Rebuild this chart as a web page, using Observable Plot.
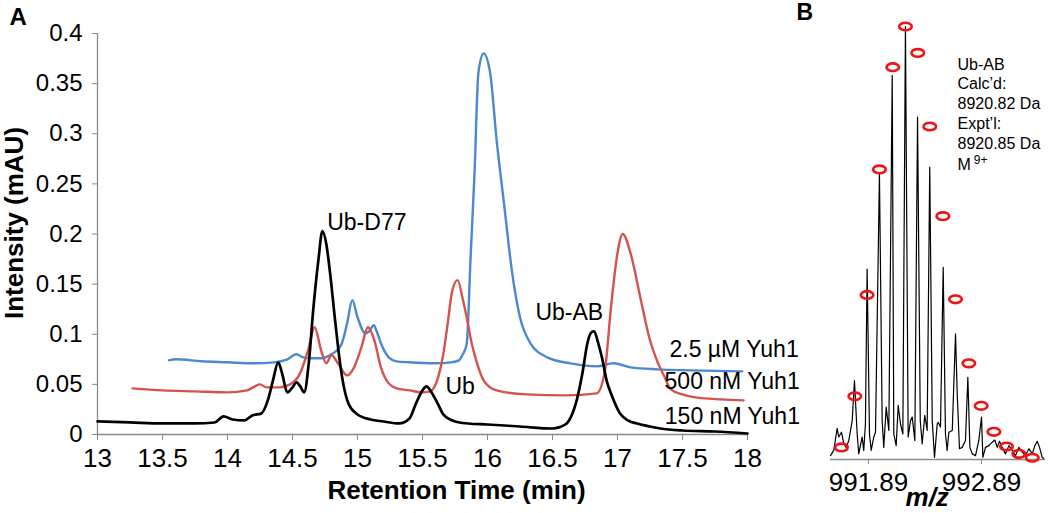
<!DOCTYPE html>
<html><head><meta charset="utf-8">
<script src="https://cdn.jsdelivr.net/npm/d3@7"></script>
<script src="https://cdn.jsdelivr.net/npm/@observablehq/plot@0.6"></script>
<style>
html,body{margin:0;padding:0;background:#fff;}
#wrap{position:relative;width:1050px;height:513px;overflow:hidden;background:#fff;}
#wrap svg{position:absolute;top:0;}
</style></head><body><div id="wrap"></div>
<script>
// ---------- Panel A: chromatograms ----------
const xTicks = [13, 13.5, 14, 14.5, 15, 15.5, 16, 16.5, 17, 17.5, 18];
const yTicks = [0, 0.05, 0.1, 0.15, 0.2, 0.25, 0.3, 0.35, 0.4];

const tBlack = [13.00,13.25,13.50,13.75,13.90,13.97,14.04,14.13,14.19,14.26,14.31,14.35,14.39,14.42,14.46,14.50,14.53,14.56,14.59,14.625,14.66,14.70,14.73,14.76,14.79,14.83,14.87,14.93,15.00,15.10,15.20,15.32,15.40,15.45,15.50,15.53,15.57,15.62,15.66,15.75,15.85,16.00,16.25,16.50,16.60,16.64,16.69,16.73,16.77,16.80,16.82,16.85,16.88,16.92,16.95,17.02,17.08,17.15,17.25,17.33,17.50,17.75,18.00];
const iBlack = [0.013,0.012,0.011,0.011,0.012,0.018,0.015,0.014,0.019,0.021,0.034,0.054,0.072,0.061,0.042,0.047,0.052,0.048,0.042,0.071,0.125,0.175,0.203,0.190,0.160,0.111,0.067,0.031,0.020,0.015,0.013,0.011,0.016,0.031,0.044,0.048,0.042,0.030,0.020,0.013,0.011,0.010,0.008,0.006,0.010,0.017,0.036,0.061,0.092,0.102,0.103,0.092,0.077,0.052,0.041,0.021,0.014,0.011,0.008,0.006,0.004,0.003,0.001];

const tRed = [13.27,13.50,13.75,14.00,14.15,14.21,14.25,14.30,14.40,14.48,14.55,14.62,14.67,14.72,14.76,14.80,14.85,14.92,14.97,15.03,15.08,15.13,15.18,15.24,15.30,15.40,15.50,15.56,15.62,15.66,15.69,15.73,15.77,15.81,15.84,15.88,15.92,15.97,16.07,16.30,16.60,16.84,16.90,16.95,17.00,17.04,17.10,17.18,17.25,17.30,17.36,17.41,17.50,17.60,17.80,17.97];
const iRed = [0.046,0.044,0.043,0.042,0.044,0.048,0.050,0.047,0.047,0.050,0.059,0.084,0.107,0.084,0.071,0.079,0.071,0.059,0.066,0.087,0.107,0.094,0.067,0.051,0.046,0.044,0.042,0.043,0.057,0.080,0.107,0.144,0.154,0.135,0.117,0.090,0.071,0.054,0.044,0.040,0.039,0.041,0.061,0.127,0.181,0.200,0.181,0.134,0.094,0.075,0.058,0.045,0.040,0.037,0.035,0.034];

const tBlue = [13.55,13.60,13.80,14.00,14.20,14.36,14.46,14.53,14.58,14.65,14.72,14.80,14.85,14.88,14.92,14.96,15.00,15.06,15.09,15.125,15.15,15.18,15.24,15.30,15.40,15.60,15.72,15.78,15.81,15.84,15.87,15.90,15.93,15.97,16.02,16.07,16.13,16.19,16.25,16.33,16.46,16.64,16.84,16.97,17.10,17.31,17.56,17.96];
const iBlue = [0.074,0.075,0.073,0.072,0.071,0.072,0.075,0.080,0.077,0.076,0.076,0.080,0.085,0.091,0.111,0.134,0.117,0.101,0.103,0.109,0.102,0.091,0.077,0.073,0.072,0.071,0.072,0.074,0.080,0.090,0.177,0.260,0.361,0.380,0.361,0.294,0.227,0.161,0.117,0.091,0.077,0.071,0.068,0.071,0.067,0.065,0.064,0.063];

const peakLabels = ["Ub-D77", "Ub", "Ub-AB"];
const peakLabelT = [14.767, 15.677, 16.369];
const peakLabelI = [0.204, 0.0407, 0.1147];

const seriesLabels = ["2.5 µM Yuh1", "500 nM Yuh1", "150 nM Yuh1"];
const seriesLabelT = [17.40, 17.362, 17.364];
const seriesLabelI = [0.0775, 0.0455, 0.0107];

// ---------- Panel B: mass spectrum ----------
const mzTicks = [991.89, 992.89];
const specMz = [991.554,991.583,991.613,991.627,991.651,991.671,991.693,991.716,991.746,991.766,991.790,991.804,991.834,991.848,991.863,991.878,991.899,991.914,991.937,991.952,991.987,992.011,992.025,992.047,992.070,992.100,992.114,992.135,992.153,992.173,992.194,992.217,992.241,992.262,992.277,992.300,992.324,992.348,992.365,992.388,992.409,992.432,992.454,992.474,992.498,992.507,992.527,992.551,992.571,992.586,992.601,992.631,992.660,992.675,992.695,992.719,992.748,992.769,992.787,992.808,992.837,992.866,992.890,992.902,992.925,992.955,992.985,993.008,993.029,993.049,993.073,993.102,993.132,993.162,993.191,993.220,993.250,993.279,993.309,993.339,993.362,993.383,993.403,993.427,993.441];
const specI = [0.9,2.1,7.2,5.2,6.3,3.7,2.8,4.4,9.0,18.2,5.9,1.3,5.2,2.1,8.2,44.0,5.9,2.1,5.2,6.3,66.0,9.0,2.8,12.1,6.7,88.7,5.9,3.2,12.5,8.2,5.9,100,5.2,9.0,9.8,4.4,79.1,9.0,3.6,10.2,6.7,67.5,9.0,0.5,8.2,8.6,7.5,44.4,5.9,2.1,6.3,6.7,29.0,15.2,2.5,2.8,4.4,19.0,2.8,1.3,0.9,4.4,9.8,0.5,2.8,3.2,4.0,4.5,2.8,4.2,2.8,1.3,3.2,2.1,0.9,2.8,1.7,0.9,2.5,1.3,3.2,4.2,2.8,0.5,0.2];

const theoMz = [991.651,991.769,991.878,991.987,992.105,992.217,992.326,992.432,992.548,992.660,992.778,992.887,992.999,993.111,993.220,993.339];
const theoI = [2.8,14.6,38.0,67.0,90.6,100,93.9,76.9,56.2,37.0,22.2,12.4,6.4,3.0,1.3,0.4];

const infoLines = ["Ub-AB", "Calc’d:", "8920.82 Da", "Expt’l:", "8920.85 Da", "M"];
const infoMz = [992.678, 992.678, 992.678, 992.678, 992.678, 992.678];
const infoI = [89.95, 85.57, 80.95, 76.37, 71.76, 66.90];
const chargeLabel = ["9+"];

// ---------- build ----------
const FONT = "'Liberation Sans', Arial, Helvetica, sans-serif";
const AXIS = "#8a8a8a";
const BLUE = "#4a89cf", RED = "#d4534e", BLACK = "#000000", CIRCLE = "#ee1414";

const rows = (ts, vs) => ts.map((t, i) => ({t, v: vs[i]}));

const panelA = Plot.plot({
  width: 830, height: 513,
  marginLeft: 97, marginRight: 83, marginTop: 33, marginBottom: 79,
  style: {fontFamily: FONT, background: "transparent", overflow: "visible", left: "0px"},
  x: {domain: [13, 18]},
  y: {domain: [0, 0.4]},
  marks: [
    Plot.axisY({ticks: yTicks, tickFormat: d => String(d), tickSize: 5, tickPadding: 10, fontSize: 24, stroke: AXIS, fill: "black", label: null}),
    Plot.axisX({ticks: xTicks, tickFormat: d => String(d), tickSize: 6, tickPadding: 8.5, fontSize: 26, stroke: AXIS, fill: "black", label: null}),
    Plot.ruleX([13], {stroke: AXIS, strokeWidth: 1.3}),
    Plot.ruleY([0], {stroke: AXIS, strokeWidth: 1.3}),
    Plot.line(rows(tBlue, iBlue), {x: "t", y: "v", stroke: BLUE, strokeWidth: 2.4, curve: "monotone-x"}),
    Plot.line(rows(tRed, iRed), {x: "t", y: "v", stroke: RED, strokeWidth: 2.4, curve: "monotone-x"}),
    Plot.line(rows(tBlack, iBlack), {x: "t", y: "v", stroke: BLACK, strokeWidth: 2.7, curve: "monotone-x"}),
    Plot.text(peakLabels, {x: peakLabelT, y: peakLabelI, textAnchor: "start", lineAnchor: "bottom", fontSize: 23, fill: "black"}),
    Plot.text(seriesLabels, {x: seriesLabelT, y: seriesLabelI, textAnchor: "start", lineAnchor: "bottom", fontSize: 23, fill: "black"}),
    Plot.text(["Retention Time (min)"], {frameAnchor: "bottom", dx: 34, dy: 64, lineAnchor: "bottom", textAnchor: "middle", fontSize: 26, fontWeight: "bold", fill: "black"}),
    Plot.text(["Intensity (mAU)"], {frameAnchor: "left", rotate: -90, dx: -75, dy: -11, lineAnchor: "bottom", textAnchor: "middle", fontSize: 26, fontWeight: "bold", fill: "black"}),
    Plot.text(["A"], {frameAnchor: "top-left", dx: -88, dy: -25.5, lineAnchor: "top", textAnchor: "start", fontSize: 24, fontWeight: "bold", fill: "black"})
  ]
});

const ellipse = {
  draw(ctx) {
    const rx = 6.3, ry = 3.8, k = 0.5523;
    ctx.moveTo(rx, 0);
    ctx.bezierCurveTo(rx, ry * k, rx * k, ry, 0, ry);
    ctx.bezierCurveTo(-rx * k, ry, -rx, ry * k, -rx, 0);
    ctx.bezierCurveTo(-rx, -ry * k, -rx * k, -ry, 0, -ry);
    ctx.bezierCurveTo(rx * k, -ry, rx, -ry * k, rx, 0);
    ctx.closePath();
  }
};

const panelB = Plot.plot({
  width: 255, height: 513,
  marginLeft: 35, marginRight: 5, marginTop: 26, marginBottom: 54,
  style: {fontFamily: FONT, background: "transparent", overflow: "visible", left: "795px"},
  x: {domain: [991.554, 993.456]},
  y: {domain: [0, 100], axis: null},
  marks: [
    Plot.axisX({ticks: mzTicks, tickFormat: d => d.toFixed(2), tickSize: 5, tickPadding: 8.2, fontSize: 26, stroke: AXIS, fill: "black", label: null}),
    Plot.ruleY([0], {stroke: AXIS, strokeWidth: 1.6}),
    Plot.line(rows(specMz, specI), {x: "t", y: "v", stroke: BLACK, strokeWidth: 1.2}),
    Plot.dot(rows(theoMz, theoI), {x: "t", y: "v", symbol: ellipse, fill: "none", stroke: CIRCLE, strokeWidth: 2.6}),
    Plot.text(infoLines, {x: infoMz, y: infoI, textAnchor: "start", lineAnchor: "bottom", fontSize: 16, fill: "black"}),
    Plot.text(chargeLabel, {x: [992.822], y: [68.29], textAnchor: "start", lineAnchor: "bottom", fontSize: 12, fill: "black"}),
    Plot.text(["m/z"], {frameAnchor: "bottom", dx: -10.8, dy: 46, lineAnchor: "bottom", textAnchor: "middle", fontSize: 26, fontWeight: "bold", fontStyle: "italic", fill: "black"}),
    Plot.text(["B"], {frameAnchor: "top-left", dx: -34, dy: -22.7, lineAnchor: "top", textAnchor: "start", fontSize: 23, fontWeight: "bold", fill: "black"})
  ]
});

const wrap = document.getElementById("wrap");
wrap.appendChild(panelA);
wrap.appendChild(panelB);
</script></body></html>
